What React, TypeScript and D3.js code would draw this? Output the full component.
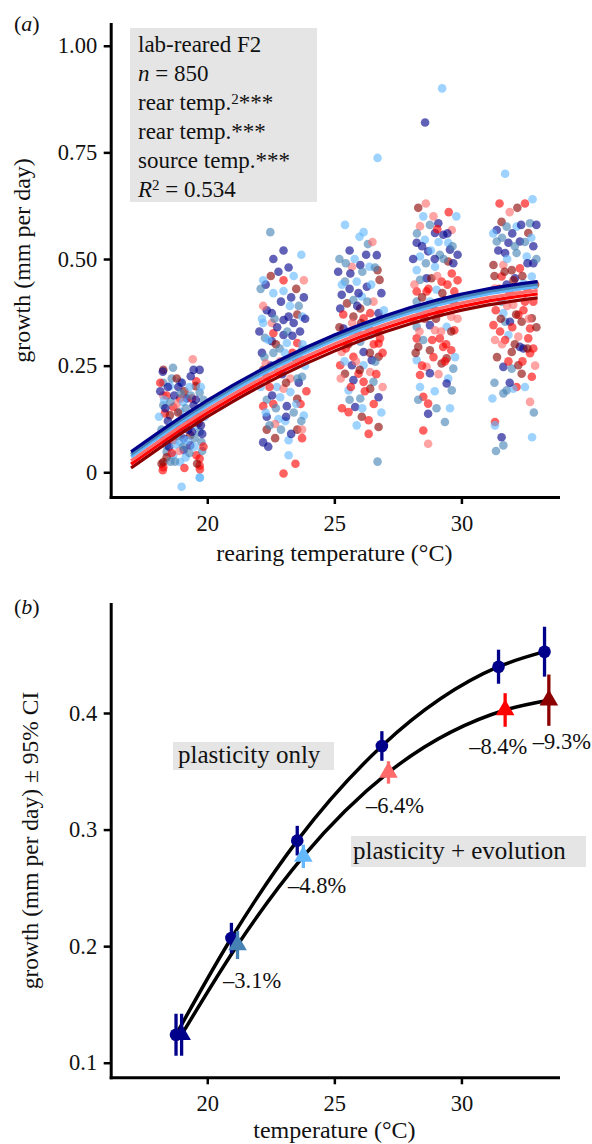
import React, { useEffect, useRef } from 'react';
import * as d3 from 'd3';

type Pt = [number, number, number]; // [rearing temp, growth, source index]

// source populations, coldest to warmest
const SOURCE_COLORS = ['#00008B', '#4682B4', '#63B8FF', '#FF6A6A', '#FF0000', '#8B0000'];

// panel (a): individual growth, one array per rearing temperature
const REAR_19: Pt[] = [
  [18.27,0.24,5],[18.25,0.236,0],[19.43,0.265,3],[19.46,0.24,0],[19.7,0.24,0],[19.57,0.213,4],[19.55,0.202,5],
  [18.93,0.212,2],[18.27,0.21,1],[18.53,0.202,2],[18.86,0.2,0],[19.7,0.187,1],[18.27,0.18,3],[18.4,0.18,4],
  [19.2,0.173,0],[18.93,0.173,4],[19.4,0.173,4],[18.27,0.157,1],[18.66,0.153,4],[19.46,0.157,0],[18.33,0.138,4],
  [18.53,0.134,5],[18.93,0.142,2],[19.7,0.142,1],[19.2,0.118,0],[19.57,0.11,2],[18.8,0.106,0],[18.33,0.095,2],
  [19.7,0.095,1],[19.33,0.087,5],[19.07,0.079,0],[18.66,0.075,4],[18.4,0.063,1],[18.93,0.071,2],[19.33,0.063,0],
  [19.77,0.071,1],[18.4,0.048,1],[18.66,0.04,2],[19.07,0.052,0],[19.57,0.04,4],[19.7,0.032,4],[18.27,0.024,5],
  [18.27,0.012,4],[18.93,0.024,2],[19.7,0.016,4],[19.7,-0.012,2],[18.99,-0.034,2],[18.2,0.02,5],[18.25,0.005,4],
  [18.73,0.025,1],[19.71,-0.013,2],[19.71,0.007,4],[18.6,0.22,1],[19.1,0.19,5],[18.45,0.12,0],[19.6,0.13,5],
  [18.8,0.16,3],[19.3,0.2,2],[18.15,0.19,0],[19.85,0.17,1],[18.7,0.09,5],[19.5,0.08,1],[18.5,0.06,0],
  [19.15,0.035,2],[18.9,0.05,3],[19.8,0.05,1],[18.35,0.15,0],[19.25,0.13,4],[19.0,0.12,1],[18.6,0.11,2],
  [18.15,0.21,4],[18.3,0.17,2],[18.45,0.2,0],[18.55,0.165,1],[18.7,0.18,0],[18.85,0.14,5],[19.0,0.21,0],
  [19.05,0.165,2],[19.15,0.15,1],[19.25,0.1,0],[19.35,0.18,1],[19.45,0.12,2],[19.55,0.17,0],[19.65,0.115,5],
  [19.75,0.2,2],[19.8,0.09,0],[19.9,0.13,2],[18.2,0.1,1],[18.3,0.075,0],[18.4,0.035,5],[18.5,0.09,3],
  [18.6,0.045,4],[18.75,0.065,2],[18.85,0.085,1],[18.95,0.1,0],[19.05,0.06,1],[19.2,0.075,2],[19.3,0.045,1],
  [19.4,0.095,0],[19.5,0.06,2],[19.6,0.02,5],[19.75,0.11,0],[18.1,0.13,2],[18.55,0.025,1],[19.1,0.01,4],
  [18.8,0.22,5],[19.35,0.225,0],[18.65,0.245,1],[19.85,0.06,4],[18.95,0.185,1],
];
const REAR_23: Pt[] = [
  [22.34,0.38,0],[22.54,0.373,0],[22.2,0.35,2],[22.54,0.35,3],[23.0,0.357,0],[23.2,0.365,0],[23.4,0.35,0],
  [23.54,0.37,5],[23.73,0.365,2],[22.6,0.326,4],[23.0,0.322,0],[22.27,0.315,1],[22.54,0.307,0],[23.13,0.303,2],
  [23.54,0.303,4],[23.73,0.287,1],[22.2,0.24,5],[22.6,0.28,1],[23.4,0.27,5],[22.87,0.26,3],[23.13,0.25,2],
  [23.73,0.224,1],[22.34,0.224,5],[23.27,0.22,3],[22.74,0.2,2],[23.0,0.196,3],[23.27,0.188,2],[22.34,0.17,1],
  [22.6,0.16,4],[22.87,0.176,2],[23.54,0.172,5],[23.67,0.16,4],[22.2,0.155,4],[23.13,0.155,0],[23.4,0.14,1],
  [22.34,0.13,0],[22.8,0.125,2],[23.07,0.12,2],[23.8,0.133,2],[22.34,0.1,5],[22.67,0.113,3],[23.54,0.1,5],
  [23.73,0.1,3],[23.73,0.08,4],[22.67,0.08,5],[22.2,0.07,0],[23.2,0.075,2],[23.47,0.02,4],[23.0,-0.003,4],
  [22.48,0.563,1],[23.7,0.51,2],[22.8,0.47,0],[23.0,0.45,4],[22.3,0.44,0],[23.5,0.43,5],[22.6,0.42,2],
  [23.3,0.41,0],[22.1,0.43,1],[23.8,0.45,3],[22.9,0.4,0],[23.6,0.39,1],[22.5,0.46,5],[23.2,0.48,0],
  [22.2,0.39,3],[23.0,0.425,2],[22.7,0.3,5],[23.35,0.28,4],[22.15,0.28,0],[23.85,0.25,2],[22.45,0.2,4],[23.6,0.21,0],
  [22.05,0.33,0],[22.15,0.36,2],[22.25,0.27,1],[22.4,0.31,2],[22.5,0.25,0],[22.65,0.36,1],[22.75,0.34,0],
  [22.85,0.29,1],[22.95,0.23,0],[23.05,0.28,2],[23.15,0.33,1],[23.25,0.39,2],[23.35,0.32,0],[23.45,0.25,2],
  [23.55,0.22,1],[23.65,0.33,0],[23.75,0.3,2],[23.85,0.36,0],[22.1,0.2,2],[22.3,0.14,2],[22.45,0.11,1],
  [22.55,0.18,0],[22.7,0.15,1],[22.9,0.1,1],[23.1,0.13,0],[23.3,0.09,0],[23.5,0.16,2],[23.7,0.12,1],
  [23.9,0.19,4],[22.2,0.45,2],[22.6,0.5,0],[23.0,0.52,0],[23.4,0.46,2],[23.8,0.41,0],[22.4,0.06,0],
  [23.2,0.04,2],[22.8,0.235,4],[23.1,0.21,5],[22.3,0.255,3],[23.6,0.27,4],
];
const REAR_26: Pt[] = [
  [25.42,0.58,2],[25.99,0.552,2],[26.15,0.563,2],[26.32,0.535,1],[26.67,0.509,0],[25.69,0.482,3],[26.02,0.486,0],
  [26.38,0.482,2],[26.7,0.474,5],[26.78,0.451,5],[25.63,0.466,0],[25.42,0.447,1],[25.88,0.447,2],[26.28,0.435,0],
  [25.29,0.416,0],[25.5,0.396,5],[25.75,0.404,1],[26.08,0.412,2],[26.54,0.4,3],[25.23,0.384,0],[26.02,0.384,5],
  [26.41,0.373,4],[26.74,0.373,0],[25.75,0.365,5],[26.15,0.361,4],[25.36,0.337,0],[25.63,0.329,3],[26.41,0.322,2],
  [26.8,0.314,4],[26.02,0.306,1],[26.74,0.302,4],[26.15,0.282,0],[25.29,0.282,3],[25.75,0.271,4],[26.74,0.271,5],
  [26.47,0.263,0],[25.23,0.251,4],[25.69,0.251,0],[26.15,0.251,2],[26.61,0.259,1],[25.42,0.231,5],[25.95,0.231,4],
  [26.41,0.235,3],[25.75,0.216,0],[26.15,0.212,4],[26.54,0.212,1],[26.41,0.196,5],[25.56,0.192,2],[26.02,0.173,1],
  [26.74,0.176,0],[25.82,0.153,0],[25.56,0.141,4],[26.08,0.13,5],[26.35,0.122,4],[25.88,0.11,2],[26.74,0.106,5],
  [26.35,0.09,4],[26.7,0.025,1],[26.7,0.737,2],[25.2,0.5,1],[25.6,0.52,0],[26.5,0.54,3],
  [25.15,0.47,0],[25.3,0.44,2],[25.45,0.49,1],[25.6,0.43,0],[25.8,0.5,2],[25.95,0.42,0],[26.1,0.47,1],
  [26.25,0.51,0],[26.45,0.44,2],[26.6,0.48,1],[26.85,0.42,0],[26.95,0.38,2],[25.2,0.34,5],[25.35,0.37,4],
  [25.55,0.3,5],[25.7,0.35,3],[25.9,0.33,4],[26.05,0.35,5],[26.2,0.32,3],[26.35,0.34,5],[26.55,0.3,4],
  [26.7,0.33,5],[26.9,0.28,4],[25.25,0.22,3],[25.45,0.29,4],[25.65,0.2,4],[25.85,0.26,3],[26.0,0.24,5],
  [26.2,0.19,4],[26.4,0.28,5],[26.65,0.23,4],[26.9,0.2,3],[25.3,0.15,4],[25.6,0.17,1],[26.1,0.15,2],
  [26.55,0.16,4],[26.85,0.14,2],[25.4,0.26,2],[26.3,0.4,1],[25.9,0.39,0],
];
const REAR_29: Pt[] = [
  [28.37,0.577,3],[28.76,0.58,1],[29.09,0.584,0],[29.62,0.568,3],[28.24,0.538,0],[28.56,0.545,2],[28.96,0.561,0],
  [29.29,0.557,0],[29.48,0.538,2],[28.37,0.506,2],[28.69,0.518,0],[29.15,0.51,1],[29.55,0.522,0],[29.48,0.494,5],
  [29.68,0.49,0],[28.24,0.474,2],[28.96,0.482,2],[28.63,0.455,0],[28.82,0.455,5],[29.62,0.466,4],[28.37,0.451,1],
  [29.22,0.447,4],[28.24,0.424,4],[28.63,0.424,4],[29.02,0.428,2],[29.72,0.424,4],[28.24,0.4,1],[28.76,0.4,2],
  [29.35,0.404,5],[28.37,0.373,2],[28.63,0.377,3],[29.15,0.373,4],[29.6,0.365,3],[28.24,0.341,1],[28.76,0.345,0],
  [28.96,0.333,3],[29.42,0.341,2],[29.72,0.333,4],[28.24,0.314,4],[29.15,0.314,4],[28.5,0.31,1],[28.3,0.294,5],
  [29.28,0.294,4],[28.76,0.286,5],[29.6,0.286,4],[28.24,0.263,2],[29.22,0.255,5],[29.42,0.267,5],[28.63,0.247,3],
  [29.68,0.243,1],[28.37,0.228,4],[28.76,0.232,0],[29.48,0.22,2],[28.37,0.2,2],[29.42,0.208,0],[29.62,0.192,1],
  [28.5,0.177,4],[28.69,0.161,4],[29.02,0.15,1],[28.69,0.137,0],[29.35,0.118,1],[28.5,0.098,4],[28.69,0.067,3],
  [29.24,0.9,2],[28.57,0.82,0],[28.3,0.62,5],[28.9,0.6,3],[29.5,0.61,4],[28.6,0.63,3],[29.8,0.6,2],
  [28.1,0.5,0],[28.25,0.56,1],[28.45,0.53,0],[28.6,0.49,1],[28.8,0.52,2],[28.95,0.5,0],[29.1,0.54,2],
  [29.3,0.5,1],[29.45,0.56,0],[29.65,0.53,1],[29.85,0.51,0],[28.15,0.44,3],[28.45,0.41,5],[28.7,0.43,4],
  [28.9,0.39,5],[29.05,0.46,3],[29.25,0.42,5],[29.45,0.44,4],[29.7,0.4,5],[29.85,0.45,4],[28.1,0.36,4],
  [28.35,0.33,3],[28.55,0.36,5],[28.85,0.31,4],[29.0,0.36,5],[29.2,0.33,3],[29.4,0.3,4],[29.6,0.33,5],
  [29.85,0.36,3],[28.2,0.28,5],[28.45,0.25,4],[28.9,0.27,4],[29.1,0.23,3],[29.35,0.26,4],[29.75,0.27,2],
  [28.3,0.17,1],[28.95,0.19,2],[29.55,0.15,2],[29.05,0.57,4],[28.5,0.6,2],
];
const REAR_32: Pt[] = [
  [31.39,0.568,0],[31.58,0.587,5],[31.78,0.576,1],[32.17,0.576,2],[32.7,0.584,1],[31.39,0.541,1],[31.85,0.538,0],
  [32.3,0.541,0],[32.63,0.561,5],[32.83,0.53,0],[31.72,0.514,0],[32.17,0.514,1],[32.57,0.506,2],[32.83,0.49,0],
  [31.26,0.486,5],[31.65,0.486,3],[31.98,0.474,5],[32.3,0.478,4],[31.58,0.459,4],[32.11,0.455,0],[32.77,0.459,2],
  [31.78,0.44,0],[32.44,0.443,2],[31.32,0.431,3],[31.58,0.4,1],[32.04,0.392,3],[32.44,0.38,4],[32.83,0.4,4],
  [31.65,0.373,2],[32.24,0.369,4],[32.77,0.361,5],[31.26,0.345,4],[31.72,0.353,1],[31.91,0.353,0],[32.37,0.353,5],
  [32.7,0.337,4],[31.52,0.33,4],[31.85,0.322,2],[32.24,0.318,3],[32.63,0.314,4],[31.32,0.31,3],[31.72,0.31,4],
  [32.44,0.29,0],[32.83,0.29,4],[31.98,0.282,5],[32.3,0.294,0],[32.7,0.279,4],[31.65,0.247,0],[31.98,0.243,1],
  [32.24,0.251,5],[32.37,0.231,5],[32.77,0.224,4],[32.17,0.2,4],[31.78,0.192,1],[32.04,0.196,2],[31.65,0.185,1],
  [31.22,0.173,2],[32.7,0.165,3],[31.32,0.118,4],[31.32,0.11,2],[31.58,0.082,0],[31.65,0.063,1],[31.36,0.05,1],
  [32.78,0.082,2],[31.5,0.63,4],[32.2,0.62,5],[32.8,0.64,2],[31.9,0.61,3],[32.5,0.63,4],[31.72,0.7,2],
  [31.25,0.56,2],[31.45,0.52,0],[31.6,0.55,1],[31.8,0.5,2],[32.0,0.56,0],[32.1,0.53,1],[32.35,0.58,0],
  [32.5,0.54,1],[32.6,0.49,0],[32.75,0.55,2],[32.95,0.5,1],[32.95,0.58,0],[31.3,0.46,5],[31.5,0.43,4],
  [31.7,0.47,5],[31.9,0.42,4],[32.05,0.45,5],[32.2,0.42,3],[32.4,0.46,5],[32.6,0.43,4],[32.9,0.44,5],
  [31.35,0.38,4],[31.55,0.36,5],[31.8,0.39,3],[32.0,0.34,4],[32.15,0.37,5],[32.5,0.4,4],[32.65,0.36,3],
  [32.95,0.34,5],[31.4,0.27,5],[31.6,0.3,3],[31.85,0.26,4],[32.1,0.3,5],[32.4,0.26,4],[32.6,0.29,5],
  [32.9,0.25,3],[31.3,0.21,1],[31.9,0.21,0],[32.5,0.2,2],[32.85,0.14,1],
];

// panel (a): fitted curves per source population
const FIT_TEMPS = [17, 19, 21, 23, 25, 27, 29, 31, 33];
const FIT_NAVY = [0.048, 0.1305, 0.2036, 0.2674, 0.322, 0.3672, 0.4032, 0.4297, 0.447];
const FIT_STEEL = [0.042, 0.1245, 0.1976, 0.2614, 0.316, 0.3612, 0.3972, 0.4237, 0.441];
const FIT_LIGHT = [0.036, 0.1185, 0.1916, 0.2554, 0.31, 0.3552, 0.3912, 0.4177, 0.435];
const FIT_SALMON = [0.027, 0.1095, 0.1826, 0.2464, 0.301, 0.3462, 0.3822, 0.4087, 0.426];
const FIT_RED = [0.019, 0.1015, 0.1746, 0.2384, 0.293, 0.3382, 0.3742, 0.4007, 0.418];
const FIT_DARKRED = [0.01, 0.0925, 0.1656, 0.2294, 0.284, 0.3292, 0.3652, 0.3917, 0.409];

// panel (b): mean growth +- 95% CI
const PLAST_TEMP = [18.77, 20.95, 23.54, 26.87, 31.46, 33.27];
const PLAST_GROWTH = [0.124, 0.207, 0.2905, 0.3717, 0.4397, 0.4526];
const PLAST_CI = [0.018, 0.013, 0.0127, 0.0127, 0.0146, 0.0214];
const EVO_TEMP = [18.99, 21.19, 23.78, 27.13, 31.72, 33.44];
const EVO_GROWTH = [0.124, 0.201, 0.277, 0.349, 0.4026, 0.411];
const EVO_CI = [0.018, 0.012, 0.01, 0.0096, 0.0144, 0.022];
const EVO_LABELS = ['', '\u20133.1%', '\u20134.8%', '\u20136.4%', '\u20138.4%', '\u20139.3%'];

const TICKS_A = [0, 0.25, 0.5, 0.75, 1];
const TICKS_B = [0.1, 0.2, 0.3, 0.4];
const TICKS_X = [20, 25, 30];

const FONT = '"Liberation Serif", "Times New Roman", serif';
const TEXT = '#111';

const App = () => {
  const svgRef = useRef<SVGSVGElement>(null);

  useEffect(() => {
    const svg = d3.select(svgRef.current);
    svg.selectAll('*').remove();

    const x = d3.scaleLinear().domain([16.2, 33.8]).range([110.7, 558]);
    const yA = d3.scaleLinear().domain([-0.058, 1.051]).range([497, 24]);
    const yB = d3.scaleLinear().domain([0.0875, 0.4935]).range([1077.3, 604]);

    const styleAxis = (g: any) => {
      g.attr('font-family', FONT).attr('font-size', 22.5);
      g.select('.domain').attr('stroke', '#000').attr('stroke-width', 3).attr('stroke-linecap', 'square');
      g.selectAll('.tick line').attr('stroke', '#000').attr('stroke-width', 2.5);
      g.selectAll('.tick text').attr('fill', TEXT);
    };

    // ---------- panel (a) ----------
    const pts = [...REAR_19, ...REAR_23, ...REAR_26, ...REAR_29, ...REAR_32];
    svg.append('g').selectAll('circle').data(pts).join('circle')
      .attr('cx', d => x(d[0]))
      .attr('cy', d => yA(d[1]))
      .attr('r', 4.3)
      .attr('fill', d => SOURCE_COLORS[d[2]])
      .attr('fill-opacity', 0.62);

    const fits = [FIT_DARKRED, FIT_RED, FIT_SALMON, FIT_LIGHT, FIT_STEEL, FIT_NAVY];
    const fitLine = d3.line<number>().x((_, i) => x(FIT_TEMPS[i])).y(d => yA(d)).curve(d3.curveNatural);
    fits.forEach((vals, k) => {
      svg.append('path').attr('d', fitLine(vals)).attr('fill', 'none')
        .attr('stroke', SOURCE_COLORS[5 - k]).attr('stroke-width', 3.2);
    });

    svg.append('g').attr('transform', 'translate(110.7,0)')
      .call(d3.axisLeft(yA).tickValues(TICKS_A).tickSize(7).tickPadding(6.5).tickSizeOuter(0)
        .tickFormat((d: any) => (d === 0 ? '0' : d3.format('.2f')(d))))
      .call(styleAxis);
    svg.append('g').attr('transform', 'translate(0,497)')
      .call(d3.axisBottom(x).tickValues(TICKS_X).tickSize(7).tickPadding(11).tickSizeOuter(0))
      .call(styleAxis);

    // stats box
    svg.append('rect').attr('x', 130).attr('y', 28).attr('width', 187).attr('height', 174).attr('fill', '#E5E5E5');
    const box = svg.append('g').attr('font-family', FONT).attr('font-size', 23).attr('fill', TEXT);
    const lineY = (i: number) => 52 + i * 28.9;
    box.append('text').attr('x', 138).attr('y', lineY(0)).text('lab-reared F2');
    const t1 = box.append('text').attr('x', 138).attr('y', lineY(1));
    t1.append('tspan').attr('font-style', 'italic').text('n');
    t1.append('tspan').text(' = 850');
    const t2 = box.append('text').attr('x', 138).attr('y', lineY(2));
    t2.append('tspan').text('rear temp.');
    t2.append('tspan').attr('font-size', 15).attr('dy', -6).text('2');
    t2.append('tspan').attr('dy', 6).text('***');
    const t3 = box.append('text').attr('x', 138).attr('y', lineY(3));
    t3.append('tspan').text('rear temp.***');
    const t4 = box.append('text').attr('x', 138).attr('y', lineY(4));
    t4.append('tspan').text('source temp.***');
    const t5 = box.append('text').attr('x', 138).attr('y', lineY(5));
    t5.append('tspan').attr('font-style', 'italic').text('R');
    t5.append('tspan').attr('font-size', 15).attr('dy', -7).text('2');
    t5.append('tspan').attr('dy', 7).text(' = 0.534');

    // titles (a)
    const titles = svg.append('g').attr('font-family', FONT).attr('fill', TEXT);
    titles.append('text').attr('x', 14).attr('y', 31).attr('font-size', 22)
      .call(t => { t.append('tspan').text('('); t.append('tspan').attr('font-style', 'italic').text('a'); t.append('tspan').text(')'); });
    titles.append('text').attr('transform', 'translate(30,260.5) rotate(-90)').attr('text-anchor', 'middle')
      .attr('font-size', 24).text('growth (mm per day)');
    titles.append('text').attr('x', 334.4).attr('y', 561).attr('text-anchor', 'middle')
      .attr('font-size', 24).text('rearing temperature (\u00B0C)');

    // ---------- panel (b) ----------
    svg.append('g').attr('transform', 'translate(110.7,0)')
      .call(d3.axisLeft(yB).tickValues(TICKS_B).tickSize(7).tickPadding(6.5).tickSizeOuter(0)
        .tickFormat(d3.format('.1f') as any))
      .call(styleAxis);
    svg.append('g').attr('transform', 'translate(0,1077.3)')
      .call(d3.axisBottom(x).tickValues(TICKS_X).tickSize(7).tickPadding(11).tickSizeOuter(0))
      .call(styleAxis);

    const idx = d3.range(PLAST_TEMP.length);
    const curve = (tt: number[], gg: number[]) =>
      d3.line<number>().x(i => x(tt[i])).y(i => yB(gg[i])).curve(d3.curveMonotoneX)(idx);
    svg.append('path').attr('d', curve(PLAST_TEMP, PLAST_GROWTH)).attr('fill', 'none')
      .attr('stroke', '#000').attr('stroke-width', 3.5);
    svg.append('path').attr('d', curve(EVO_TEMP, EVO_GROWTH)).attr('fill', 'none')
      .attr('stroke', '#000').attr('stroke-width', 3.5);

    // plasticity only: circles
    const gp = svg.append('g');
    idx.forEach(i => {
      gp.append('line').attr('x1', x(PLAST_TEMP[i])).attr('x2', x(PLAST_TEMP[i]))
        .attr('y1', yB(PLAST_GROWTH[i] - PLAST_CI[i])).attr('y2', yB(PLAST_GROWTH[i] + PLAST_CI[i]))
        .attr('stroke', SOURCE_COLORS[0]).attr('stroke-width', 3.3);
      gp.append('circle').attr('cx', x(PLAST_TEMP[i])).attr('cy', yB(PLAST_GROWTH[i])).attr('r', 6.3)
        .attr('fill', SOURCE_COLORS[0]);
    });
    // plasticity + evolution: triangles
    const tri = d3.symbol().type(d3.symbolTriangle).size(150);
    idx.forEach(i => {
      gp.append('line').attr('x1', x(EVO_TEMP[i])).attr('x2', x(EVO_TEMP[i]))
        .attr('y1', yB(EVO_GROWTH[i] - EVO_CI[i])).attr('y2', yB(EVO_GROWTH[i] + EVO_CI[i]))
        .attr('stroke', SOURCE_COLORS[i]).attr('stroke-width', 3.3);
      gp.append('path').attr('d', tri()).attr('fill', SOURCE_COLORS[i])
        .attr('transform', `translate(${x(EVO_TEMP[i])},${yB(EVO_GROWTH[i])})`);
    });

    // percentage labels, offset from each triangle
    const labelOffset = [[0, 0], [-14.5, 43], [-15.3, 36.6], [-22.5, 40.5], [-36, 44], [-16, 49]];
    idx.forEach(i => {
      if (!EVO_LABELS[i]) return;
      svg.append('text').attr('x', x(EVO_TEMP[i]) + labelOffset[i][0]).attr('y', yB(EVO_GROWTH[i]) + labelOffset[i][1])
        .attr('font-family', FONT).attr('font-size', 22.5).attr('fill', TEXT).text(EVO_LABELS[i]);
    });

    // curve labels
    svg.append('rect').attr('x', 173).attr('y', 742).attr('width', 161).attr('height', 28).attr('fill', '#E5E5E5');
    svg.append('text').attr('x', 178).attr('y', 763).attr('font-family', FONT).attr('font-size', 25)
      .attr('fill', TEXT).text('plasticity only');
    svg.append('rect').attr('x', 351).attr('y', 836).attr('width', 235).attr('height', 31).attr('fill', '#E5E5E5');
    svg.append('text').attr('x', 353).attr('y', 859).attr('font-family', FONT).attr('font-size', 25)
      .attr('fill', TEXT).text('plasticity + evolution');

    titles.append('text').attr('x', 14).attr('y', 614).attr('font-size', 22)
      .call(t => { t.append('tspan').text('('); t.append('tspan').attr('font-style', 'italic').text('b'); t.append('tspan').text(')'); });
    titles.append('text').attr('transform', 'translate(38,840.5) rotate(-90)').attr('text-anchor', 'middle')
      .attr('font-size', 23.5).text('growth (mm per day) \u00B1 95% CI');
    titles.append('text').attr('x', 334.4).attr('y', 1138).attr('text-anchor', 'middle')
      .attr('font-size', 24).text('temperature (\u00B0C)');
  }, []);

  return (
    <svg ref={svgRef} width={592} height={1144}
      style={{ position: 'absolute', left: 0, top: 0, display: 'block', background: '#fff' }} />
  );
};

export default App;
